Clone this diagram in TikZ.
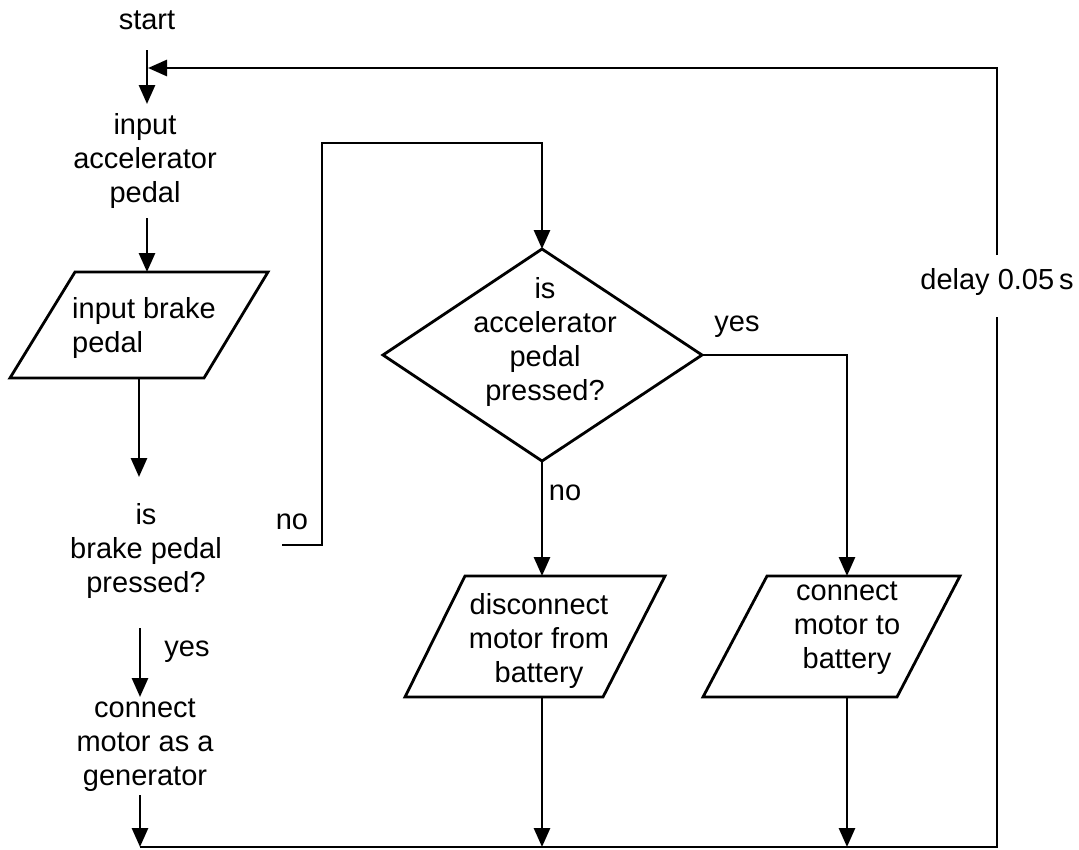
\documentclass[tikz,border=0pt]{standalone}
\usepackage{fontspec}
\setmainfont{Liberation Sans}
\usetikzlibrary{arrows.meta}
\begin{document}
\begin{tikzpicture}[x=1pt,y=-1pt,
  ln/.style={line width=2.8pt},
  arr/.style={ln,-{Triangle[length=19pt,width=16pt]}},
  txt/.style={font=\fontsize{29}{34}\selectfont,align=center,inner sep=0pt},
  shp/.style={line width=2.8pt,line join=miter}]
\useasboundingbox (0,0) rectangle (1079,849);
% texts
\node[txt] (start) at (147,20) {start};
\node[txt] (acc) at (145,161) {input\\accelerator\\pedal};
\node[txt,align=left,anchor=west] (brake) at (72,328) {input brake\\pedal};
\node[txt] (bq) at (146,551) {is\\brake pedal\\pressed?};
\node[txt] (gen) at (145,745) {connect\\motor as a\\generator};
\node[txt] (aq) at (545,342) {is\\accelerator\\pedal\\pressed?};
\node[txt] (disc) at (539,641) {disconnect\\motor from\\battery};
\node[txt] (conn) at (847,628) {connect\\motor to\\battery};
\node[txt] (delay) at (997,282) {delay 0.05\,s};
\node[txt] (no1) at (292,522) {no};
\node[txt] (yes1) at (187,652) {yes};
\node[txt] (yes2) at (737,327) {yes};
\node[txt] (no2) at (565,493) {no};
% shapes
\draw[shp] (75,272) -- (268,272) -- (204,378) -- (10,378) -- cycle;
\coordinate (dtop) at (542,249); \coordinate (dleft) at (383,355);
\coordinate (dright) at (702,355); \coordinate (dbot) at (542,461);
\draw[shp] (dtop) -- (dright) -- (dbot) -- (dleft) -- cycle;
\draw[shp] (465,576) -- (665,576) -- (603,697) -- (405,697) -- cycle;
\draw[shp] (767,576) -- (960,576) -- (897,697) -- (703,697) -- cycle;
% coordinates
\coordinate (s1) at (147,50); \coordinate (s2) at (147,104);
\coordinate (a1) at (147,218); \coordinate (a2) at (147,272);
\coordinate (b1) at (139,378); \coordinate (b2) at (139,477);
\coordinate (q1) at (140,628); \coordinate (q2) at (140,697);
\coordinate (g1) at (140,795); \coordinate (g2) at (140,847);
\coordinate (nst) at (282,545); \coordinate (n1) at (322,545);
\coordinate (n2) at (322,143); \coordinate (n3) at (542,143);
\coordinate (y1) at (847,355); \coordinate (ptop2) at (847,576);
\coordinate (ptop1) at (542,576);
\coordinate (pb1) at (542,697); \coordinate (pe1) at (542,847);
\coordinate (pb2) at (847,697); \coordinate (pe2) at (847,847);
\coordinate (r0) at (997,847); \coordinate (r1) at (997,317);
\coordinate (r2) at (997,255); \coordinate (r3) at (997,68);
\coordinate (lp) at (148,68);
% connectors
\draw[arr] (s1) -- (s2);
\draw[arr] (a1) -- (a2);
\draw[arr] (b1) -- (b2);
\draw[arr] (q1) -- (q2);
\draw[arr] (g1) -- (g2);
\draw[arr] (nst) -- (n1) -- (n2) -- (n3) -- (dtop);
\draw[arr] (dright) -- (y1) -- (ptop2);
\draw[arr] (dbot) -- (ptop1);
\draw[arr] (pb1) -- (pe1);
\draw[arr] (pb2) -- (pe2);
\draw[ln] (g2) -- (r0) -- (r1);
\draw[arr] (r2) -- (r3) -- (lp);
\end{tikzpicture}
\end{document}
